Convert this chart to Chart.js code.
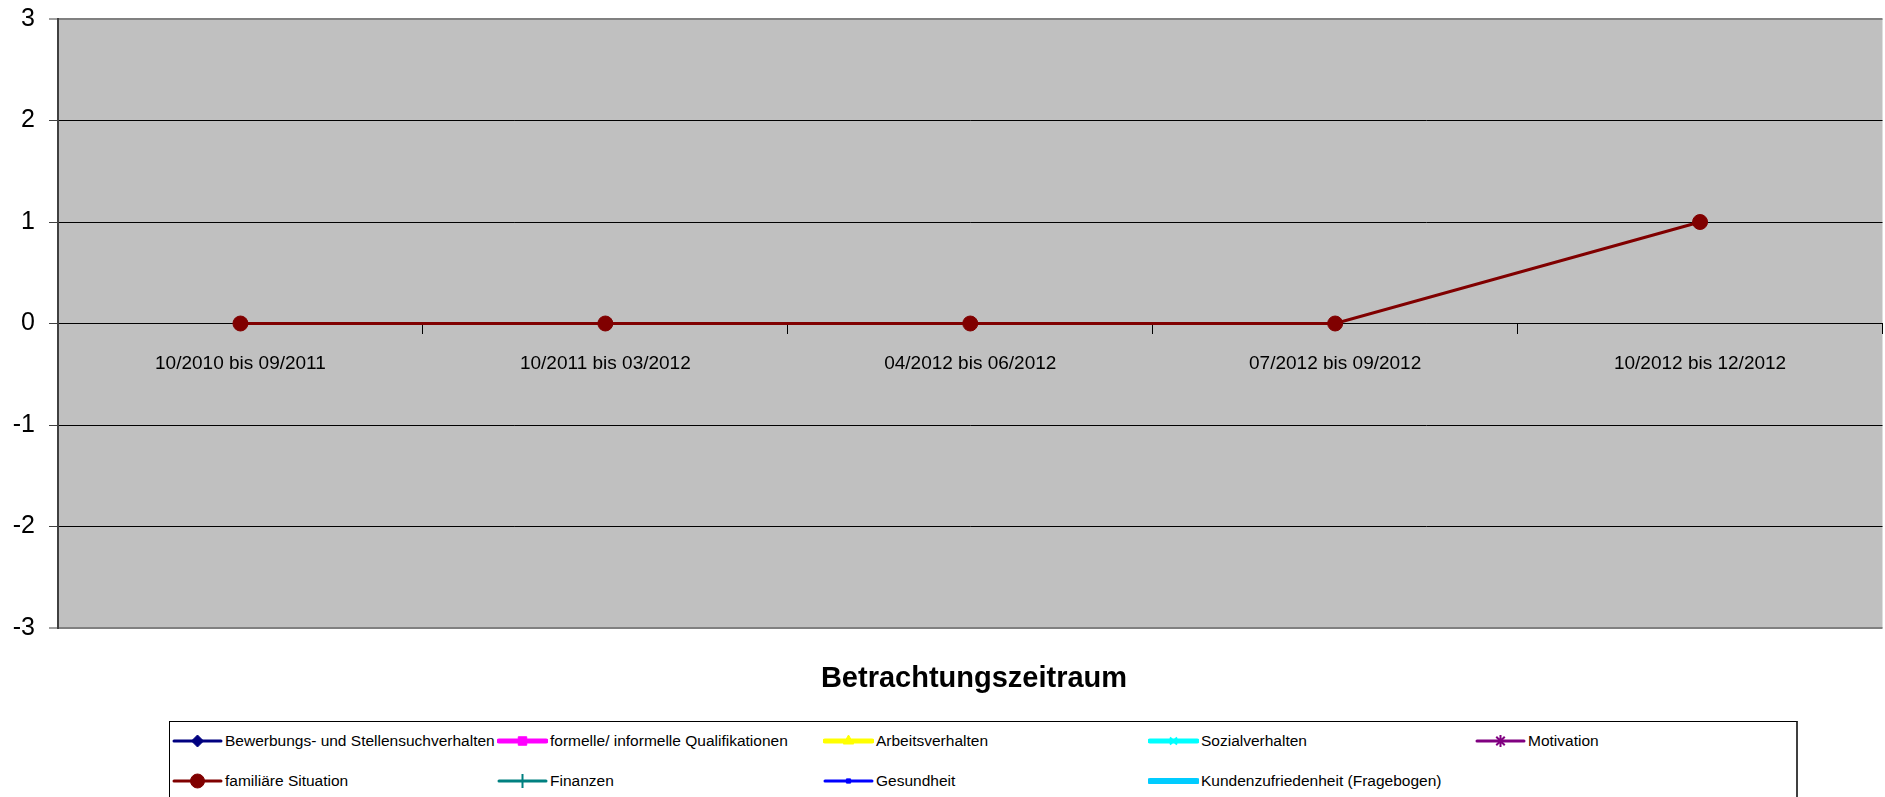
<!DOCTYPE html>
<html lang="de">
<head>
<meta charset="utf-8">
<title>Betrachtungszeitraum</title>
<script src="https://cdn.jsdelivr.net/npm/chart.js@4.4.1/dist/chart.umd.min.js"></script>
<style>
    html, body { margin: 0; padding: 0; background: #fff; overflow: hidden; }
    body { width: 1885px; height: 797px; position: relative; font-family: "Liberation Sans", Arial, sans-serif; }
    #chart { position: absolute; left: 0; top: 0; }
    #axisTitle { position: absolute; left: 58px; width: 1832px; top: 660px; line-height: 34px; text-align: center; font-weight: bold; font-size: 29px; color: #000; }
    #legend { position: absolute; left: 169px; top: 721px; width: 1626px; height: 100px; border: 1px solid #000; border-right: 2px solid #404040; background: #fff; }
    .legend-item { position: absolute; height: 24px; display: flex; align-items: center; font-size: 15.5px; color: #000; white-space: nowrap; }
    .legend-item canvas { display: block; margin-right: 2px; }
</style>
</head>
<body>
<canvas id="chart" width="1891" height="797"></canvas>
<div id="axisTitle">Betrachtungszeitraum</div>
<div id="legend"></div>

<script>
// categories on the x axis
const categories = ['10/2010 bis 09/2011', '10/2011 bis 03/2012', '04/2012 bis 06/2012', '07/2012 bis 09/2012', '10/2012 bis 12/2012'];

// series names (legend order)
const seriesNames = [
    'Bewerbungs- und Stellensuchverhalten',
    'formelle/ informelle Qualifikationen',
    'Arbeitsverhalten',
    'Sozialverhalten',
    'Motivation',
    'familiäre Situation',
    'Finanzen',
    'Gesundheit',
    'Kundenzufriedenheit (Fragebogen)'
];

// values: only "familiäre Situation" has points in the picture
const familiaereSituation = [0, 0, 0, 0, 1];
const keineWerte = [null, null, null, null, null];

// y axis ticks
const yMin = -3;
const yMax = 3;
const yStep = 1;

// looks
const seriesColors = ['#000080', '#ff00ff', '#ffff00', '#00ffff', '#800080', '#800000', '#008080', '#0000ff', '#00ccff'];
const seriesPoints = ['rectRot', 'rect', 'triangle', 'crossRot', 'star', 'circle', 'cross', 'rect', false];
const seriesLineWidths = [3, 5, 5, 5, 3, 3, 3, 3, 6];
const seriesPointRadius = [6, 6, 6, 5, 6, 7.5, 7, 3, 0];

const seriesData = [keineWerte, keineWerte, keineWerte, keineWerte, keineWerte, familiaereSituation, keineWerte, keineWerte, keineWerte];

const FONT = '"Liberation Sans", Arial, sans-serif';

const plotBackground = {
    id: 'plotBackground',
    beforeDraw(chart) {
        const { ctx, chartArea: a } = chart;
        ctx.save();
        ctx.fillStyle = '#c0c0c0';
        ctx.fillRect(a.left, a.top, a.right - a.left, a.bottom - a.top);
        ctx.restore();
    }
};

const isEdge = v => v === yMin || v === yMax;

new Chart(document.getElementById('chart'), {
    type: 'line',
    data: {
        labels: categories,
        datasets: seriesNames.map((name, i) => ({
            label: name,
            data: seriesData[i],
            borderColor: seriesColors[i],
            backgroundColor: seriesColors[i],
            borderWidth: seriesLineWidths[i],
            pointStyle: seriesPoints[i],
            pointRadius: seriesPointRadius[i],
            pointBorderWidth: 1,
            pointHoverRadius: seriesPointRadius[i],
            tension: 0,
            fill: false
        }))
    },
    options: {
        responsive: false,
        animation: false,
        layout: { padding: { left: 0, top: 19, right: 0, bottom: 169 } },
        plugins: {
            legend: { display: false },
            tooltip: { enabled: false }
        },
        scales: {
            x: {
                type: 'category',
                offset: true,
                position: { y: 0 },
                border: { display: true, color: '#000', width: 1 },
                grid: { drawOnChartArea: false, drawTicks: true, offset: true, tickLength: 10, tickColor: '#000', tickWidth: 1 },
                ticks: { autoSkip: false, maxRotation: 0, padding: 19, color: '#000', font: { family: FONT, size: 19 } }
            },
            y: {
                min: yMin,
                max: yMax,
                afterFit(scale) {
                    scale.width = 58;
                    scale.paddingTop = 0;
                    scale.paddingBottom = 0;
                },
                border: { display: true, color: '#404040', width: 2 },
                grid: {
                    color: ctx => (ctx.tick && isEdge(ctx.tick.value)) ? '#808080' : '#000',
                    lineWidth: ctx => (ctx.tick && isEdge(ctx.tick.value)) ? 2 : 1,
                    drawTicks: true,
                    tickLength: 9,
                    tickColor: '#404040',
                    tickWidth: 1
                },
                ticks: { stepSize: yStep, padding: 14, color: '#000', font: { family: FONT, size: 25 } }
            }
        }
    },
    plugins: [plotBackground]
});

// legend (5 columns, 2 rows)
function legendMarker(i) {
    const c = document.createElement('canvas');
    c.width = 51;
    c.height = 20;
    const ctx = c.getContext('2d');
    ctx.strokeStyle = seriesColors[i];
    ctx.fillStyle = seriesColors[i];
    ctx.lineWidth = seriesLineWidths[i];
    ctx.lineCap = 'round';
    ctx.beginPath();
    ctx.moveTo(2, 10);
    ctx.lineTo(49, 10);
    ctx.stroke();
    if (seriesPoints[i] && Chart.helpers && Chart.helpers.drawPoint) {
        ctx.lineWidth = seriesPoints[i] === 'cross' || seriesPoints[i] === 'crossRot' || seriesPoints[i] === 'star' ? 2 : 1;
        ctx.lineCap = 'butt';
        Chart.helpers.drawPoint(ctx, { pointStyle: seriesPoints[i], radius: Math.min(seriesPointRadius[i], 7), rotation: 0, borderWidth: ctx.lineWidth }, 25.5, 10);
    }
    return c;
}

const legend = document.getElementById('legend');
const colX = [2, 327, 653, 978, 1305];
const rowY = [7, 47];
seriesNames.forEach((name, i) => {
    const item = document.createElement('div');
    item.className = 'legend-item';
    item.style.left = colX[i % 5] + 'px';
    item.style.top = rowY[Math.floor(i / 5)] + 'px';
    item.appendChild(legendMarker(i));
    const span = document.createElement('span');
    span.textContent = name;
    item.appendChild(span);
    legend.appendChild(item);
});
</script>
</body>
</html>
